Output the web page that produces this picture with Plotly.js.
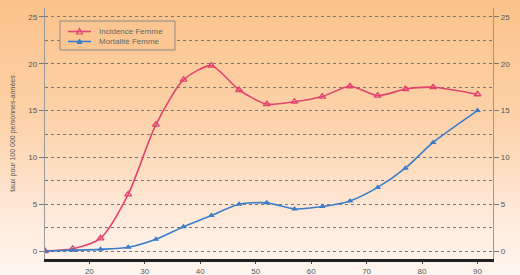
<!DOCTYPE html>
<html><head><meta charset="utf-8">
<script src="https://cdn.plot.ly/plotly-3.0.1.min.js"></script>
<style>
html,body{margin:0;padding:0;}
body{width:520px;height:275px;background:linear-gradient(to bottom,#fbc28a 0%,#fcd3ab 45%,#feeadb 80%,#fff6ef 100%);}
#chart{width:520px;height:275px;}
</style></head>
<body><div id="chart"></div>
<script>
const ages = [12,17,22,27,32,37,42,47,52,57,62,67,72,77,82,90];
const incidence = [0,0.25,1.35,6.05,13.5,18.3,19.8,17.2,15.7,15.95,16.5,17.6,16.6,17.3,17.5,16.75];
const mortalite = [0,0.08,0.18,0.4,1.25,2.6,3.8,5.0,5.15,4.5,4.75,5.35,6.8,8.85,11.6,15.0];
const seriesNames = ["Incidence Femme","Mortalité Femme"];
const xTicks = [20,30,40,50,60,70,80,90];
const yTicks = [0,5,10,15,20,25];
const yTitle = "taux pour 100 000 personnes-années";

const pink = "#e24470", blue = "#3b7dc9";
const font = "Liberation Sans, Arial, sans-serif";
const traces = [
  {x: ages, y: incidence, name: seriesNames[0], mode: "lines+markers", showlegend: false,
   line: {color: pink, width: 1.6, shape: "spline", smoothing: 0.7},
   marker: {symbol: "triangle-up-open", size: 6, color: pink, line: {width: 1.3, color: pink}}},
  {x: ages, y: mortalite, name: seriesNames[1], mode: "lines+markers", showlegend: false,
   line: {color: blue, width: 1.6, shape: "spline", smoothing: 0.7},
   marker: {symbol: "triangle-up", size: 6, color: blue}},
  {x: ages, y: mortalite, yaxis: "y2", mode: "lines", opacity: 0, showlegend: false,
   hoverinfo: "skip", line: {color: blue, width: 0}}
];
const yr = [-0.85, 25.96];
const tickFont = {family: font, size: 8, color: "#555"};

// custom legend (pixel -> paper helpers)
const L = 45, R = 493, T = 8, B = 259;
const px = v => (v - L) / (R - L);
const py = v => (B - v) / (B - T);
const shapes = [
  {type: "rect", xref: "paper", yref: "paper", x0: px(60), x1: px(175), y0: py(50), y1: py(21),
   line: {color: "#8a8a8a", width: 1}, fillcolor: "#fbc692"},
  {type: "line", xref: "paper", yref: "paper", x0: px(68), x1: px(91), y0: py(31.5), y1: py(31.5),
   line: {color: pink, width: 1.6}},
  {type: "line", xref: "paper", yref: "paper", x0: px(68), x1: px(91), y0: py(41.5), y1: py(41.5),
   line: {color: blue, width: 1.6}},
  {type: "path", xref: "paper", yref: "paper",
   path: `M ${px(76.5)} ${py(34)} L ${px(82.5)} ${py(34)} L ${px(79.5)} ${py(28.5)} Z`,
   line: {color: pink, width: 1.2}, fillcolor: "rgba(0,0,0,0)"},
  {type: "path", xref: "paper", yref: "paper",
   path: `M ${px(77)} ${py(43.5)} L ${px(82)} ${py(43.5)} L ${px(79.5)} ${py(39)} Z`,
   line: {color: blue, width: 1}, fillcolor: blue}
];
const annotations = seriesNames.map((n, i) => ({
  xref: "paper", yref: "paper", x: px(97), y: py(31.5 + 10 * i), xanchor: "left", yanchor: "middle",
  text: n, showarrow: false, font: {family: font, size: 8, color: "#666"}
}));

const layout = {
  width: 520, height: 275,
  margin: {l: 45, r: 27, t: 8, b: 16, pad: 0},
  paper_bgcolor: "rgba(0,0,0,0)", plot_bgcolor: "rgba(0,0,0,0)",
  showlegend: false, shapes: shapes, annotations: annotations,
  xaxis: {range: [12, 92.8], tickvals: xTicks, ticks: "outside", ticklen: 2,
    tickcolor: "#444", showgrid: false, zeroline: false, showline: true,
    linecolor: "#222", linewidth: 3, tickfont: tickFont},
  xaxis2: {overlaying: "x", side: "top", range: [12, 92.8], showticklabels: false,
    ticks: "", showgrid: false, zeroline: false, showline: true, linecolor: "#999", linewidth: 1.2},
  yaxis: {range: yr, tickvals: yTicks, ticks: "outside", ticklen: 5, tickcolor: "#777",
    showline: true, linecolor: "#999", linewidth: 1.2, zeroline: false,
    showgrid: true, gridcolor: "#777", gridwidth: 1, griddash: "dot",
    minor: {dtick: 2.5, tick0: 0, showgrid: true, gridcolor: "#777", gridwidth: 1, griddash: "dot", ticks: ""},
    tickfont: tickFont,
    title: {text: yTitle, font: {family: font, size: 7, color: "#555"}, standoff: 11}},
  yaxis2: {overlaying: "y", side: "right", range: yr, tickvals: yTicks, ticks: "outside",
    ticklen: 5, tickcolor: "#777", showline: true, linecolor: "#999", linewidth: 1.2,
    showgrid: false, zeroline: false, tickfont: tickFont}
};
Plotly.newPlot("chart", traces, layout, {staticPlot: true, displayModeBar: false});
</script></body></html>
